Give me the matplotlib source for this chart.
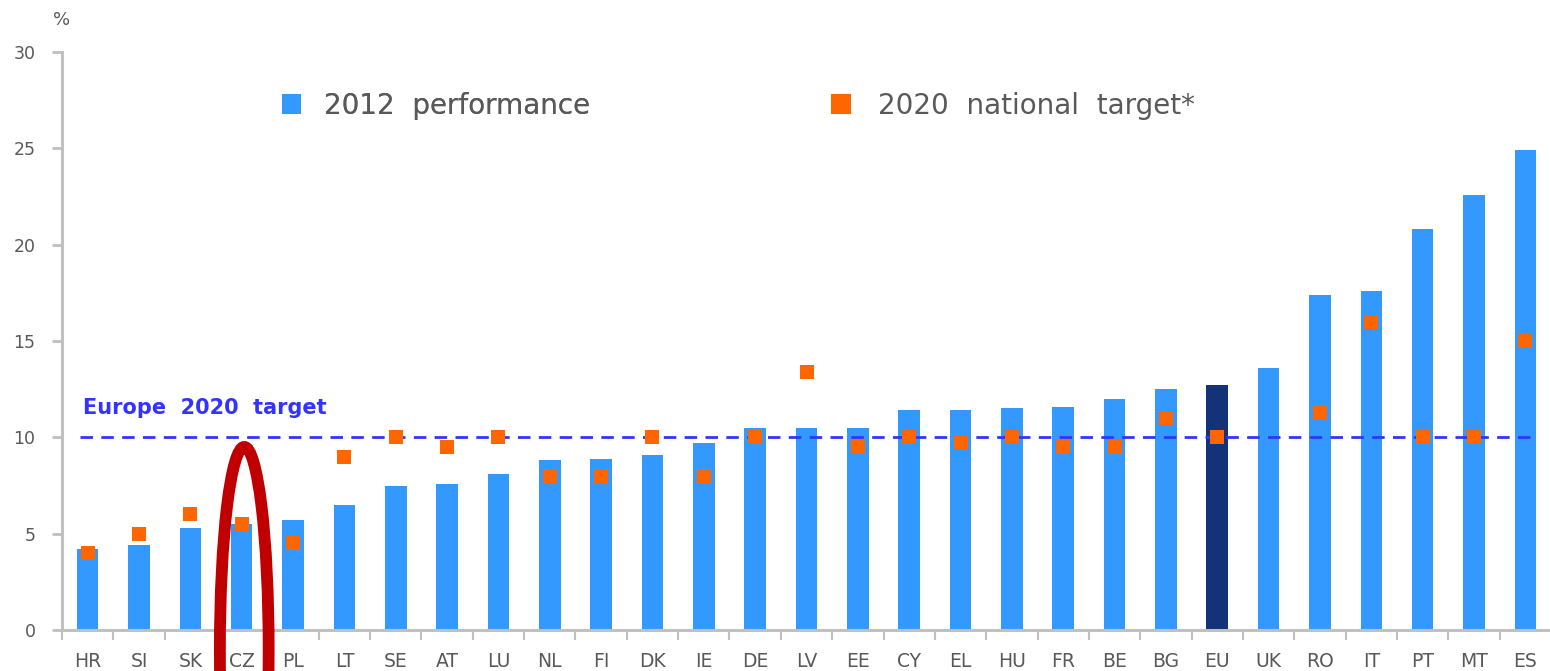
import matplotlib
matplotlib.use("Agg")
import matplotlib.pyplot as plt
from matplotlib.patches import Ellipse, Patch
from matplotlib.lines import Line2D
import numpy as np

countries = ["HR", "SI", "SK", "CZ", "PL", "LT", "SE", "AT", "LU", "NL", "FI", "DK", "IE",
             "DE", "LV", "EE", "CY", "EL", "HU", "FR", "BE", "BG", "EU", "UK", "RO", "IT",
             "PT", "MT", "ES"]
performance_2012 = [4.2, 4.4, 5.3, 5.5, 5.7, 6.5, 7.5, 7.6, 8.1, 8.8, 8.9, 9.1, 9.7,
                    10.5, 10.5, 10.5, 11.4, 11.4, 11.5, 11.6, 12.0, 12.5, 12.7, 13.6, 17.4, 17.6,
                    20.8, 22.6, 24.9]
national_target_2020 = [4.0, 5.0, 6.0, 5.5, 4.5, 9.0, 10.0, 9.5, 10.0, 8.0, 8.0, 10.0, 8.0,
                        10.0, 13.4, 9.5, 10.0, 9.7, 10.0, 9.5, 9.5, 11.0, 10.0, np.nan, 11.3, 16.0,
                        10.0, 10.0, 15.0]
europe_target = 10
highlight = "CZ"
y_ticks = [0, 5, 10, 15, 20, 25, 30]

BLUE = "#3399FF"
NAVY = "#143278"
ORANGE = "#FF6600"
GREY_TXT = "#595959"
AXIS_GREY = "#C0C0C0"

fig = plt.figure(figsize=(15.5, 6.71), dpi=100)
ax = fig.add_axes([62 / 1550, 41 / 671, 1489 / 1550, 578 / 671])

x = np.arange(len(countries))
colors = [NAVY if c == "EU" else BLUE for c in countries]
ax.bar(x, performance_2012, width=0.42, color=colors, zorder=2)
ax.plot(x, national_target_2020, linestyle="none", marker="s", markersize=10.5,
        color=ORANGE, markeredgewidth=0, zorder=4)

ax.axhline(europe_target, xmin=0.012, xmax=0.989, color="#3333FF", linewidth=2.0,
           dashes=(4.5, 3), zorder=3)
ax.text(0.014, europe_target + 1.5, "Europe  2020  target", transform=ax.get_yaxis_transform(),
        color="#3333FF", fontsize=15, fontweight="bold", va="center", ha="left")

ax.set_xlim(-0.5, len(countries) - 0.5)
ax.set_ylim(0, 30)
ax.set_yticks(y_ticks)
ax.set_yticklabels([str(v) for v in y_ticks])
ax.set_xticks(x)
ax.set_xticklabels(countries)
ax.set_xticks(np.arange(-0.5, len(countries), 1.0), minor=True)

for side in ["top", "right"]:
    ax.spines[side].set_visible(False)
for side in ["left", "bottom"]:
    ax.spines[side].set_color(AXIS_GREY)
    ax.spines[side].set_linewidth(2.2)

ax.tick_params(axis="x", which="major", length=0, pad=16, labelsize=13.5, labelcolor=GREY_TXT)
ax.tick_params(axis="x", which="minor", length=7, width=1.5, color=AXIS_GREY, direction="out")
ax.tick_params(axis="y", which="major", length=7, width=2, color=AXIS_GREY, pad=12,
               labelsize=12.5, labelcolor=GREY_TXT)

fig.text(62 / 1550, 1 - 20 / 671, "%", fontsize=13, color=GREY_TXT, ha="center", va="center")

# Legend
leg1 = fig.legend(handles=[Patch(facecolor=BLUE, edgecolor="none", label="2012  performance")],
                  loc="center left", bbox_to_anchor=(282 / 1550, 1 - 106 / 671),
                  frameon=False, fontsize=20, handlelength=0.7, handleheight=0.75,
                  handletextpad=0.8, borderpad=0, borderaxespad=0, labelcolor=GREY_TXT)
leg2 = fig.legend(handles=[Line2D([], [], linestyle="none", marker="s", markersize=14,
                                  color=ORANGE, markeredgewidth=0,
                                  label="2020  national  target*")],
                  loc="center left", bbox_to_anchor=(831 / 1550, 1 - 106 / 671),
                  frameon=False, fontsize=20, handlelength=0.7,
                  handletextpad=1.0, borderpad=0, borderaxespad=0, labelcolor=GREY_TXT)
fig.add_artist(leg1)

# Red ellipse highlighting CZ
ci = countries.index(highlight)
ell = Ellipse((ci + 0.05, -1.0), width=0.95, height=21.0, fill=False,
              edgecolor="#C00000", linewidth=8.5, clip_on=False, zorder=10)
ax.add_patch(ell)

fig.savefig("out.png", dpi=100)
